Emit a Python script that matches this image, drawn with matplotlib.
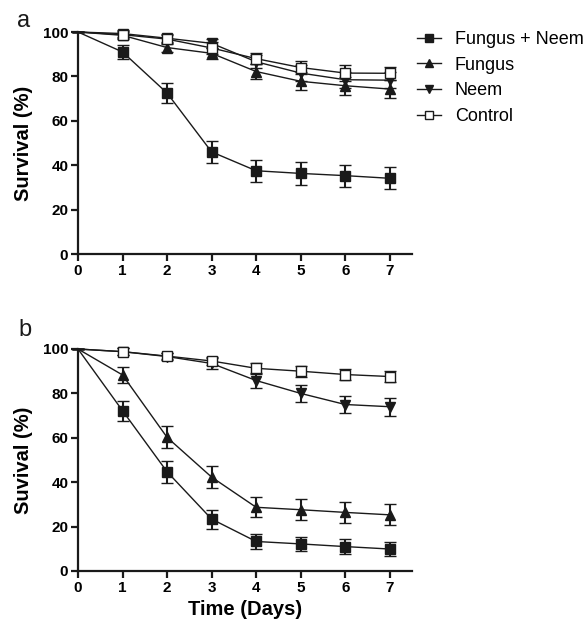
import numpy as np
import matplotlib
matplotlib.use("Agg")
import matplotlib.pyplot as plt

plt.rcParams['font.family'] = ['Liberation Sans', 'DejaVu Sans']

days = [0, 1, 2, 3, 4, 5, 6, 7]
labels = ["Fungus + Neem", "Fungus", "Neem", "Control"]

# panel a
fn_a = [100, 91, 72.5, 46, 37.5, 36.3, 35.3, 34.1]
fn_a_err = [0, 3, 4.7, 5, 5, 5, 5, 5]
fungus_a = [100, 98.5, 93, 90.4, 82.2, 77.8, 75.8, 74.3]
fungus_a_err = [0, 1.5, 2, 2.5, 3.5, 4, 4, 4]
neem_a = [100, 99.3, 97.2, 94.9, 86.6, 81.5, 78.5, 78.3]
neem_a_err = [0, 1.5, 1.8, 2, 3, 3.5, 3.5, 3.5]
control_a = [100, 98.8, 96.8, 92.8, 88, 84, 81.5, 81.4]
control_a_err = [0, 1.5, 2, 2.5, 2.5, 3, 3.5, 3]

# panel b
fn_b = [100, 72.2, 44.7, 23.4, 13.3, 12.2, 11, 9.9]
fn_b_err = [0, 4.5, 5, 4.3, 3.5, 3.3, 3.2, 3.3]
fungus_b = [100, 88.3, 60.2, 42.3, 28.7, 27.6, 26.4, 25.3]
fungus_b_err = [0, 3.5, 5, 5, 4.6, 4.7, 4.7, 4.7]
neem_b = [100, 98.8, 96.6, 93.5, 85.8, 80, 75, 74]
neem_b_err = [0, 1.5, 1.5, 2.5, 3.5, 3.7, 3.8, 4]
control_b = [100, 98.8, 96.8, 94.6, 91.3, 90, 88.5, 87.6]
control_b_err = [0, 1.5, 1.5, 2, 2.5, 2.5, 2.5, 2.5]

ink = '#1a1a1a'
styles = [
    dict(marker='s', mfc=ink),
    dict(marker='^', mfc=ink),
    dict(marker='v', mfc=ink),
    dict(marker='s', mfc='white'),
]

fig = plt.figure(figsize=(5.85, 6.26), dpi=100)
ax1 = fig.add_axes([78/585, 1-254/626, 334/585, 222/626])
ax2 = fig.add_axes([78/585, 1-571/626, 334/585, 222/626])


def draw(ax, series, errs, ylabel):
    for vals, e, st in zip(series, errs, styles):
        ax.errorbar(days, vals, yerr=e, color=ink, lw=1.0, ms=7,
                    marker=st['marker'], mfc=st['mfc'], mec=ink, mew=1.0,
                    markevery=list(range(1, 8)),
                    elinewidth=1.5, capsize=4, capthick=1.5, clip_on=False)
    ax.set_xlim(0, 7.5)
    ax.set_ylim(0, 100)
    ax.set_xticks(range(8))
    ax.set_yticks(range(0, 101, 20))
    for s in ['top', 'right']:
        ax.spines[s].set_visible(False)
    for s in ['left', 'bottom']:
        ax.spines[s].set_linewidth(1.6)
        ax.spines[s].set_color(ink)
    ax.tick_params(width=1.6, length=5, color=ink, labelsize=11, pad=2)
    for t in ax.get_xticklabels() + ax.get_yticklabels():
        t.set_fontweight('bold')
    ax.set_ylabel(ylabel, fontsize=14.5, fontweight='bold', labelpad=7)


draw(ax1, [fn_a, fungus_a, neem_a, control_a],
     [fn_a_err, fungus_a_err, neem_a_err, control_a_err], "Survival (%)")
draw(ax2, [fn_b, fungus_b, neem_b, control_b],
     [fn_b_err, fungus_b_err, neem_b_err, control_b_err], "Suvival (%)")
ax2.set_xlabel("Time (Days)", fontsize=14.5, fontweight='bold', labelpad=4)

leg_handles = []
for st in styles:
    ln, = ax1.plot([], [], color=ink, lw=1.0, ms=6, marker=st['marker'],
                   mfc=st['mfc'], mec=ink)
    leg_handles.append(ln)
fig.legend(leg_handles, labels, loc='upper left',
           bbox_to_anchor=(417/585, 1-31/626), frameon=False, fontsize=13,
           handlelength=1.35, handletextpad=0.75, labelspacing=0.48, borderpad=0,
           borderaxespad=0)

fig.text(17/585, 1-27/626, "a", fontsize=17, va='baseline', color=ink)
fig.text(18/585, 1-336/626, "b", fontsize=17, va='baseline', color=ink)

fig.savefig("out.png", dpi=100)
